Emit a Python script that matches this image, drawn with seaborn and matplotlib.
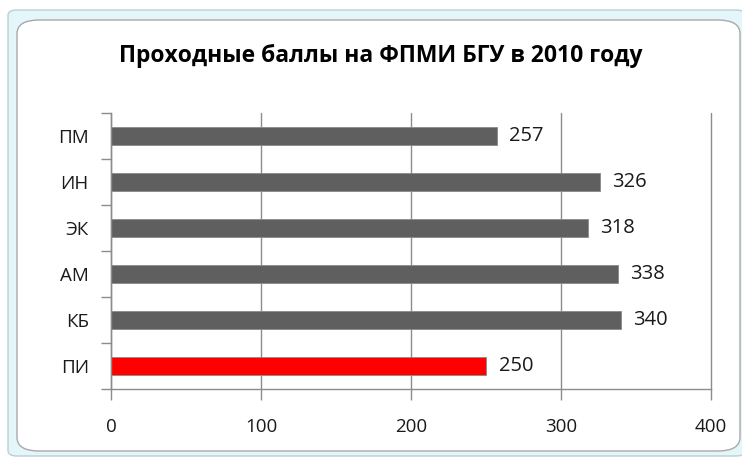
import matplotlib
matplotlib.use("Agg")
import matplotlib.pyplot as plt
import seaborn as sns
import pandas as pd
from matplotlib.patches import FancyBboxPatch
from matplotlib.ticker import FixedLocator

categories = ["ПМ", "ИН", "ЭК", "АМ", "КБ", "ПИ"]
scores = [257, 326, 318, 338, 340, 250]
bar_colors = ["#5f5f5f", "#5f5f5f", "#5f5f5f", "#5f5f5f", "#5f5f5f", "#ff0000"]
x_ticks = [0, 100, 200, 300, 400]
title = "Проходные баллы на ФПМИ БГУ в 2010 году"

sns.set_theme(style="white")
plt.rcParams['font.family'] = ['Open Sans', 'DejaVu Sans']

W, H = 742, 457
fig = plt.figure(figsize=(W / 100, H / 100), dpi=100)
fig.patch.set_facecolor("white")

def px(x0, y0, x1, y1):
    return x0 / W, 1 - y1 / H, (x1 - x0) / W, (y1 - y0) / H

fx, fy, fw, fh = px(8, 10, 745, 456)
fig.patches.append(FancyBboxPatch((fx, fy), fw, fh, boxstyle="round,pad=0,rounding_size=0.012",
                                  transform=fig.transFigure, facecolor="#e4f6f9",
                                  edgecolor="#b9cfd6", linewidth=1, zorder=-2))
ix, iy, iw, ih = px(17, 20, 740, 451)
fig.patches.append(FancyBboxPatch((ix, iy), iw, ih, boxstyle="round,pad=0,rounding_size=0.03",
                                  transform=fig.transFigure, facecolor="white",
                                  edgecolor="#a9a9a9", linewidth=1, zorder=-1))

ax = fig.add_axes([111 / W, 1 - 389 / H, (711 - 111) / W, (389 - 113) / H])
ax.set_facecolor("none")
ax.set_zorder(2)

df = pd.DataFrame({"cat": categories, "score": scores})
sns.barplot(data=df, x="score", y="cat", hue="cat", palette=bar_colors, legend=False,
            orient="h", width=0.4, saturation=1, ax=ax, edgecolor="#8a8a8a",
            linewidth=0.6, zorder=3)

ax.set_xlim(0, 400)
ax.set_ylim(len(categories) - 0.5, -0.5)
ax.set_xlabel("")
ax.set_ylabel("")

grid_c = "#8c8c8c"
ax.set_xticks(x_ticks)
ax.set_xticklabels([str(t) for t in x_ticks])
ax.xaxis.grid(True, color=grid_c, linewidth=1, zorder=0)
for gl in ax.get_xgridlines():
    gl.set_clip_on(False)
ax.yaxis.grid(False)

for s in ["top", "right"]:
    ax.spines[s].set_visible(False)
for s in ["left", "bottom"]:
    ax.spines[s].set_color(grid_c)
    ax.spines[s].set_linewidth(1)
    ax.spines[s].set_zorder(4)

ax.tick_params(axis="x", which="major", length=8, width=1, color=grid_c, direction="out",
               pad=13, labelsize=13.5, labelcolor="#1a1a1a", bottom=True)
ax.tick_params(axis="y", which="major", length=0, pad=16, labelsize=13.5, labelcolor="#1a1a1a")
ax.yaxis.set_minor_locator(FixedLocator([i - 0.5 for i in range(len(categories) + 1)]))
ax.tick_params(axis="y", which="minor", length=7, width=1, color=grid_c, direction="out", left=True)

for i, v in enumerate(scores):
    ax.annotate(str(v), xy=(v, i), xytext=(9, 0), textcoords="offset points",
                va="center", ha="left", fontsize=14.5, color="#1a1a1a")

fig.text(381 / W, 1 - 56 / H, title, ha="center", va="center", fontsize=16.5,
         fontweight="bold", color="black")

fig.savefig("out.png", dpi=100, facecolor=fig.get_facecolor())
